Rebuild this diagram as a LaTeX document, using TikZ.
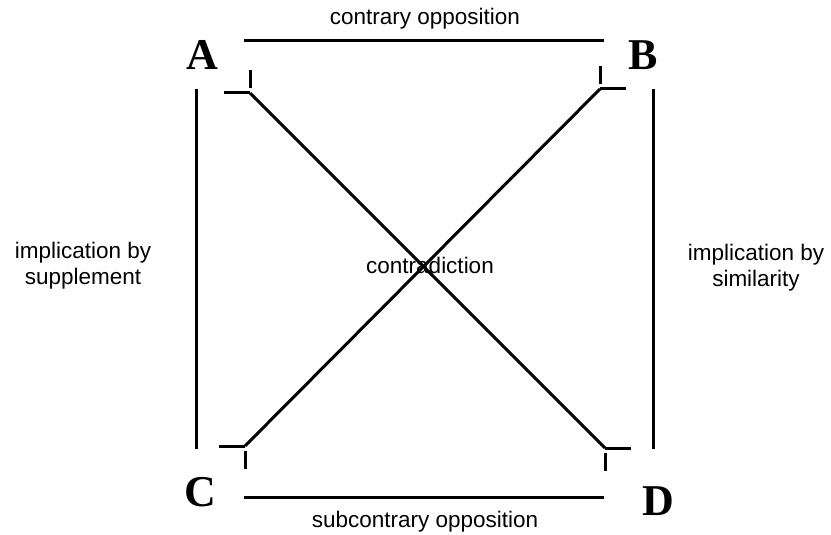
\documentclass[tikz,border=0pt]{standalone}
\usepackage{fontspec}
\setmainfont{Liberation Serif}
\setsansfont{Liberation Sans}
\usetikzlibrary{calc}

\begin{document}
\begin{tikzpicture}[x=0.5pt, y=-0.5pt,
    rel/.style={font=\sffamily\fontsize{11.25}{13}\selectfont, inner sep=0pt, align=center},
    corner/.style={font=\bfseries\fontsize{22}{26}\selectfont, inner sep=0pt},
    edge/.style={line width=1.5pt}]
    \useasboundingbox (0,0) rectangle (831,535);

    % corner points of the square
    \coordinate (pA) at (250,93);
    \coordinate (pB) at (600,89);
    \coordinate (pC) at (245,446);
    \coordinate (pD) at (605,448);

    % ends of the sides
    \coordinate (ab1) at (244,41);  \coordinate (ab2) at (604,41);
    \coordinate (cd1) at (244,497); \coordinate (cd2) at (604,497);
    \coordinate (ac1) at (196,89);  \coordinate (ac2) at (196,449);
    \coordinate (bd1) at (653,89);  \coordinate (bd2) at (653,449);

    % letters
    \node[corner] (A) at (202,55) {A};
    \node[corner] (B) at (643,55) {B};
    \node[corner] (C) at (200,492) {C};
    \node[corner] (D) at (658,501) {D};

    % relations
    \node[rel, anchor=base] (contrary) at (425,25) {contrary opposition};
    \node[rel, anchor=base] (subcontrary) at (425,527) {subcontrary opposition};
    \node[rel] (supplement) at (83,266) {implication by\\supplement};
    \node[rel] (similarity) at (756,268) {implication by\\similarity};
    \node[rel, anchor=base] (contradiction) at (430,273) {contradiction};

    % sides
    \draw[edge] (ab1) -- (ab2);
    \draw[edge] (cd1) -- (cd2);
    \draw[edge] (ac1) -- (ac2);
    \draw[edge] (bd1) -- (bd2);

    % diagonals
    \draw[edge] (pA) -- (pD);
    \draw[edge] (pB) -- (pC);

    % corner ticks
    \foreach \p/\sx/\sy in {pA/-1/-1, pB/1/-1, pC/-1/1, pD/1/1}{
        \draw[edge] (\p) -- ++(26*\sx,0);
        \draw[edge] ($(\p)+(0,5*\sy)$) -- ++(0,18*\sy);
    }
\end{tikzpicture}
\end{document}
